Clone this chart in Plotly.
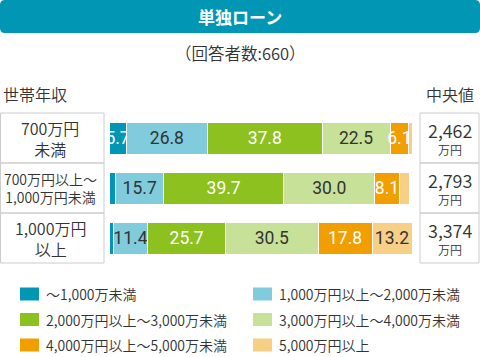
import plotly.graph_objects as go

# ---------------- data ----------------
categories = ["700万円<br>未満", "700万円以上～<br>1,000万円未満", "1,000万円<br>以上"]
series_names = ["～1,000万未満", "1,000万円以上～2,000万未満", "2,000万円以上～3,000万未満",
                "3,000万円以上～4,000万未満", "4,000万円以上～5,000万未満", "5,000万円以上"]
s1 = [5.7, 2.3, 1.4]
s2 = [26.8, 15.7, 11.4]
s3 = [37.8, 39.7, 25.7]
s4 = [22.5, 30.0, 30.5]
s5 = [6.1, 8.1, 17.8]
s6 = [1.1, 3.5, 13.2]
medians = ["2,462", "2,793", "3,374"]
median_unit = "万円"
title_text = "単独ローン"
subtitle_text = "（回答者数:660）"

# ---------------- style ----------------
W, H = 480, 357
colors = ["#0096B4", "#80CBDC", "#8CC11F", "#C8E199", "#F09E00", "#F7CF86"]
text_colors = ["#FFFFFF", "#333333", "#FFFFFF", "#333333", "#FFFFFF", "#333333"]
show_min = 5.0
JP = "Noto Sans CJK JP"
NUM = "Roboto"
DARK = "#333333"
BORDER = "#CCCCCC"
LW = 350  # text weight


def px(x):
    return x / W


def py(y):
    return 1 - y / H


fig = go.Figure()
all_series = [s1, s2, s3, s4, s5, s6]
for name, vals, col, tcol in zip(series_names, all_series, colors, text_colors):
    fig.add_trace(go.Bar(
        y=categories, x=vals, name=name, orientation="h",
        marker=dict(color=col, line=dict(color="white", width=1)),
        text=[f"{v:.1f}" if v >= show_min else "" for v in vals],
        texttemplate="%{text}",
        textposition="inside", insidetextanchor="middle", textangle=0,
        textfont=dict(color=tcol, size=17.5, family=NUM),
        cliponaxis=False, hoverinfo="skip",
    ))

shapes = []
annotations = []

# title banner (rounded rect)
x0, x1, y0, y1 = px(0), px(480), py(33), py(0)
rx, ry = 5 / W, 5 / H
path = (f"M {x0+rx},{y1} L {x1-rx},{y1} Q {x1},{y1} {x1},{y1-ry} "
        f"L {x1},{y0+ry} Q {x1},{y0} {x1-rx},{y0} L {x0+rx},{y0} "
        f"Q {x0},{y0} {x0},{y0+ry} L {x0},{y1-ry} Q {x0},{y1} {x0+rx},{y1} Z")
shapes.append(dict(type="path", xref="paper", yref="paper", path=path,
                   fillcolor="#0096B4", line=dict(width=0), layer="below"))
annotations.append(dict(text=f"<b>{title_text}</b>", x=0.5, y=py(16.5), xref="paper", yref="paper",
                        showarrow=False, font=dict(color="white", size=17, family=JP),
                        xanchor="center", yanchor="middle"))
annotations.append(dict(text=subtitle_text, x=0.5, y=py(53), xref="paper", yref="paper",
                        showarrow=False, font=dict(color=DARK, size=16.5, family=JP, weight=LW),
                        xanchor="center", yanchor="middle"))
annotations.append(dict(text="世帯年収", x=px(1), y=py(94), xref="paper", yref="paper",
                        showarrow=False, font=dict(color=DARK, size=16, family=JP, weight=LW),
                        xanchor="left", yanchor="middle"))
annotations.append(dict(text="中央値", x=px(476), y=py(94), xref="paper", yref="paper",
                        showarrow=False, font=dict(color=DARK, size=16, family=JP, weight=LW),
                        xanchor="right", yanchor="middle"))

# table cells
row_tops = [113, 163, 213]
for t in row_tops:
    shapes.append(dict(type="rect", xref="paper", yref="paper",
                       x0=px(0.5), x1=px(104), y0=py(t + 50), y1=py(t),
                       line=dict(color=BORDER, width=1), fillcolor="rgba(0,0,0,0)"))
    shapes.append(dict(type="rect", xref="paper", yref="paper",
                       x0=px(420), x1=px(479), y0=py(t + 50), y1=py(t),
                       line=dict(color=BORDER, width=1), fillcolor="rgba(0,0,0,0)"))

label_sizes = [16, 14, 16]
for cat, fs in zip(categories, label_sizes):
    annotations.append(dict(text=cat, x=px(50), y=cat, xref="paper", yref="y",
                            showarrow=False, align="center",
                            font=dict(color=DARK, size=fs, family=JP, weight=LW),
                            xanchor="center", yanchor="middle"))
for cat, med in zip(categories, medians):
    annotations.append(dict(text=med, x=px(449.5), y=cat, xref="paper", yref="y", yshift=8,
                            showarrow=False, font=dict(color=DARK, size=18, family=JP, weight=LW),
                            xanchor="center", yanchor="middle"))
    annotations.append(dict(text=median_unit, x=px(449.5), y=cat, xref="paper", yref="y", yshift=-11,
                            showarrow=False, font=dict(color=DARK, size=12, family=JP, weight=LW),
                            xanchor="center", yanchor="middle"))

# manual legend (two columns)
for i, (name, col) in enumerate(zip(series_names, colors)):
    c, r = i % 2, i // 2
    sx = 20 if c == 0 else 253
    cy = 294 + r * 25.5
    shapes.append(dict(type="rect", xref="paper", yref="paper",
                       x0=px(sx), x1=px(sx + 19), y0=py(cy + 6.5), y1=py(cy - 6.5),
                       fillcolor=col, line=dict(width=0)))
    annotations.append(dict(text=name, x=px(sx + 24), y=py(cy), xref="paper", yref="paper",
                            showarrow=False, font=dict(color=DARK, size=14, family=JP, weight=LW),
                            xanchor="left", yanchor="middle"))

fig.update_layout(
    width=W, height=H,
    margin=dict(l=0, r=0, t=0, b=0),
    paper_bgcolor="white", plot_bgcolor="white",
    barmode="stack", bargap=0.36,
    showlegend=False,
    xaxis=dict(domain=[px(109), px(412)], range=[0, 100], visible=False, fixedrange=True),
    yaxis=dict(domain=[py(263), py(113)], type="category", categoryorder="array",
               categoryarray=categories, autorange="reversed", visible=False, fixedrange=True),
    shapes=shapes, annotations=annotations,
    font=dict(family=JP, color=DARK),
)
fig.update_traces(constraintext="none")

fig.write_html("out.html", config={"displayModeBar": False},
               post_script="document.body.style.margin='0';document.body.style.overflow='hidden';")
